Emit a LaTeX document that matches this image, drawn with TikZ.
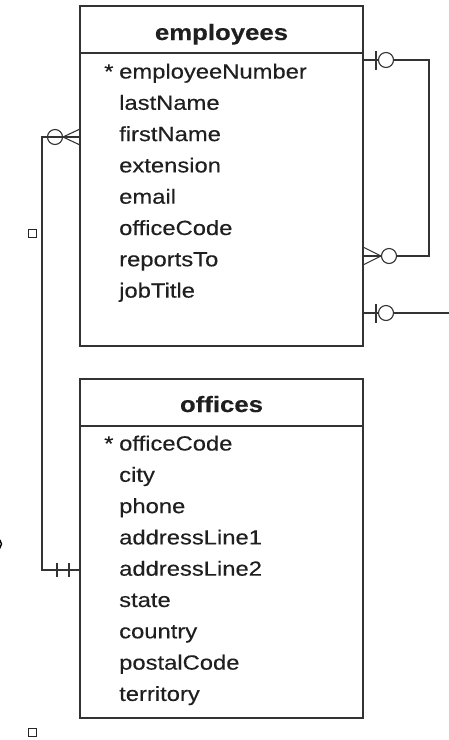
\documentclass[tikz,border=0pt]{standalone}
\usepackage{fontspec}
\setmainfont{Liberation Sans}[FakeStretch=1.16,FakeBold=0.3]
\begin{document}
\begin{tikzpicture}[x=1pt,y=-1pt,
  tablebox/.style={draw=black!80, line width=1.7pt, inner sep=0pt, outer sep=0pt, anchor=north west, minimum width=283pt},
  title/.style={anchor=base, inner sep=0pt, font=\fontsize{22.2}{22.2}\selectfont\bfseries, text=black!88},
  field/.style={anchor=base west, inner sep=0pt, font=\fontsize{20.5}{20.5}\selectfont, text=black!88},
  conn/.style={draw=black!80, line width=1.4pt},
  cmark/.style={draw=black!80, line width=1.1pt}
]
\useasboundingbox (0,0) rectangle (449,740);
% employees
\node[tablebox, minimum height=340pt] (emp) at (80,6) {};
\draw[draw=black!80, line width=1.5pt] (80,53) -- (363,53);
\node[title] (empt) at (221.5,40) {employees};
\node[field] (e0) at (104,78.5) {*};
\node[field] (e1) at (119,78.5) {employeeNumber};
\node[field] (e2) at (119,109.8) {lastName};
\node[field] (e3) at (119,141.1) {firstName};
\node[field] (e4) at (119,172.4) {extension};
\node[field] (e5) at (119,203.7) {email};
\node[field] (e6) at (119,235) {officeCode};
\node[field] (e7) at (119,266.3) {reportsTo};
\node[field] (e8) at (119,297.6) {jobTitle};
% offices
\node[tablebox, minimum height=339pt] (off) at (80,379) {};
\draw[draw=black!80, line width=1.5pt] (80,426) -- (363,426);
\node[title] (offt) at (221.5,412) {offices};
\node[field] (o0) at (104,450.5) {*};
\node[field] (o1) at (119,450.5) {officeCode};
\node[field] (o2) at (119,481.8) {city};
\node[field] (o3) at (119,513.1) {phone};
\node[field] (o4) at (119,544.4) {addressLine1};
\node[field] (o5) at (119,575.7) {addressLine2};
\node[field] (o6) at (119,607) {state};
\node[field] (o7) at (119,638.3) {country};
\node[field] (o8) at (119,669.6) {postalCode};
\node[field] (o9) at (119,700.9) {territory};
% coordinates on borders
\coordinate (eL) at (80,137);
\coordinate (oL) at (80,570);
\coordinate (eR1) at (363,60);
\coordinate (eR2) at (363,256);
\coordinate (eR3) at (363,313);
\coordinate (cL1) at (42,137);
\coordinate (cL2) at (42,570);
\coordinate (cR1) at (429,60);
\coordinate (cR2) at (429,256);
\coordinate (cR3) at (449,313);
% left relation employees >O---||offices
\draw[conn] (eL) -- (cL1) -- (cL2) -- (oL);
\draw[cmark] (55,137) circle (7.5);
\draw[cmark] (80,129) -- (63,137) -- (80,145);
\draw[cmark] (57,563) -- (57,577);
\draw[cmark] (69,563) -- (69,577);
% self relation
\draw[conn] (eR1) -- (cR1) -- (cR2) -- (eR2);
\draw[cmark] (376,51) -- (376,70);
\draw[cmark, fill=white] (386,60) circle (7.5);
\draw[cmark] (363,247) -- (381,256) -- (363,265);
\draw[cmark, fill=white] (389,256) circle (7.5);
% outgoing relation
\draw[conn] (eR3) -- (cR3);
\draw[cmark] (376,304) -- (376,323);
\draw[cmark, fill=white] (386,313) circle (7.5);
% small squares
\node[draw=black!85, line width=1pt, minimum size=8pt, inner sep=0pt] (sq1) at (32,233) {};
\node[draw=black!85, line width=1pt, minimum size=8pt, inner sep=0pt] (sq2) at (32,732) {};
% clipped fragment at left edge
\draw[line width=1.4pt, black] (-4,544) circle (5.5);
\end{tikzpicture}
\end{document}
